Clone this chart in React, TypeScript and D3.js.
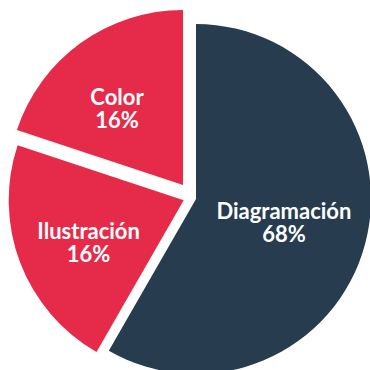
import React from "react";
import * as d3 from "d3";

// Data
const categories = ["Diagramación", "Ilustración", "Color"];
const sliceValues = [58.3, 21.8, 19.9]; // share of the circle as drawn
const pctLabels = ["68%", "16%", "16%"]; // label text as printed

// Layout / style (kept separate from data)
const W = 370;
const H = 370;
const baseCenter = { x: 190, y: 193 };
const sliceOffsets: [number, number][] = [
  [6, 6],
  [-6.3, 7.3],
  [-7, -8],
];
const R = 175;
const colors = ["#273c4e", "#e62b4a", "#e62b4a"];
const labelPlacement: [number, number][] = [
  // [radius, angle shift in degrees]
  [91, 0],
  [104, -3],
  [101, -5],
];

export default function App() {
  const pie = d3
    .pie<number>()
    .sort(null)
    .value((d) => d)
    .startAngle(0)
    .endAngle(2 * Math.PI);
  const arcs = pie(sliceValues);
  const arcGen = d3.arc<d3.PieArcDatum<number>>().innerRadius(0).outerRadius(R);

  return (
    <svg
      width={W}
      height={H}
      style={{ position: "fixed", left: 0, top: 0, display: "block" }}
    >
      <rect width={W} height={H} fill="#ffffff" />
      {arcs.map((a, i) => {
        const cx = baseCenter.x + sliceOffsets[i][0];
        const cy = baseCenter.y + sliceOffsets[i][1];
        const mid = (a.startAngle + a.endAngle) / 2 + (labelPlacement[i][1] * Math.PI) / 180;
        const lr = labelPlacement[i][0];
        const lx = cx + lr * Math.sin(mid);
        const ly = cy - lr * Math.cos(mid);
        return (
          <g key={categories[i]}>
            <path d={arcGen(a) || ""} fill={colors[i]} transform={`translate(${cx},${cy})`} />
            <text
              x={lx}
              y={ly}
              textAnchor="middle"
              fill="#ffffff"
              fontFamily="Lato, 'Open Sans', sans-serif"
              fontWeight={700}
              fontSize={22}
            >
              <tspan x={lx} y={ly - 3.5}>
                {categories[i]}
              </tspan>
              <tspan x={lx} y={ly + 19.5}>
                {pctLabels[i]}
              </tspan>
            </text>
          </g>
        );
      })}
    </svg>
  );
}
